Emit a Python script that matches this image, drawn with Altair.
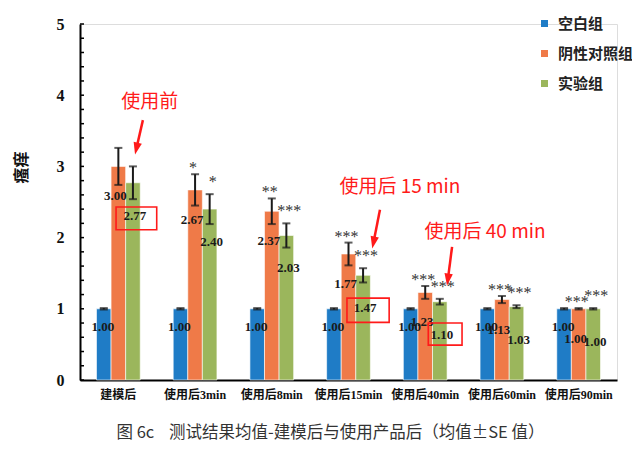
import altair as alt
import pandas as pd

categories = ["建模后", "使用后3min", "使用后8min", "使用后15min", "使用后40min", "使用后60min", "使用后90min"]
groups = ["空白组", "阴性对照组", "实验组"]
colors = ["#1f7cc6", "#ef7a48", "#9bb65c"]

blank_vals = [1.00, 1.00, 1.00, 1.00, 1.00, 1.00, 1.00]
neg_vals = [3.00, 2.67, 2.37, 1.77, 1.23, 1.13, 1.00]
exp_vals = [2.77, 2.40, 2.03, 1.47, 1.10, 1.03, 1.00]

blank_se = [0.01, 0.01, 0.01, 0.01, 0.01, 0.01, 0.01]
neg_se = [0.26, 0.22, 0.18, 0.16, 0.09, 0.05, 0.01]
exp_se = [0.23, 0.21, 0.17, 0.10, 0.04, 0.02, 0.01]

blank_stars = ["", "", "", "", "", "", ""]
neg_stars = ["", "*", "**", "***", "***", "***", "***"]
exp_stars = ["", "*", "***", "***", "***", "***", "***"]

y_ticks = [0.0, 0.2, 0.4, 0.6, 0.8, 1.0, 1.2, 1.4, 1.6, 1.8, 2.0, 2.2, 2.4, 2.6, 2.8,
           3.0, 3.2, 3.4, 3.6, 3.8, 4.0, 4.2, 4.4, 4.6, 4.8, 5.0]

# annotations (x in category units 0..7, y in value units)
note_text = ["使用前", "使用后 15 min", "使用后 40 min"]
note_x = [0.91, 4.17, 5.28]
note_y = [3.90, 2.71, 2.08]
arrow_x1 = [0.82, 3.91, 4.85]
arrow_y1 = [3.65, 2.39, 1.87]
arrow_x2 = [0.735, 3.826, 4.795]
arrow_y2 = [3.25, 1.93, 1.41]
arrow_ang = [13, 12, 8]
box_x1 = [0.47, 3.48, 4.54]
box_x2 = [1.00, 4.03, 4.98]
box_y1 = [2.43, 1.15, 0.80]
box_y2 = [2.11, 0.81, 0.49]

caption = "图 6c\u00a0\u00a0\u00a0 测试结果均值-建模后与使用产品后（均值±SE 值）"

rows = []
for g, vals, ses, sts in zip(groups, [blank_vals, neg_vals, exp_vals],
                             [blank_se, neg_se, exp_se], [blank_stars, neg_stars, exp_stars]):
    for c, v, s, st in zip(categories, vals, ses, sts):
        rows.append(dict(category=c, group=g, value=v, se=s, stars=st, label=f"{v:.2f}"))
df = pd.DataFrame(rows)

yscale = alt.Scale(domain=[0, 5], nice=False, zero=True)
xenc = alt.X("category:N", sort=categories,
             scale=alt.Scale(paddingInner=0.43, paddingOuter=0.215),
             axis=alt.Axis(title=None, labelAngle=0, tickSize=0, domainColor="black", domainWidth=2,
                           labelFont="Liberation Serif, Noto Sans CJK SC", labelFontWeight="bold",
                           labelFontSize=12, labelColor="#111", labelPadding=9))
xoff = alt.XOffset("group:N", sort=groups, scale=alt.Scale(paddingInner=0, paddingOuter=0))

base = alt.Chart(df)

bars = base.mark_bar(stroke="white", strokeWidth=0.6).encode(
    x=xenc,
    xOffset=xoff,
    y=alt.Y("value:Q", scale=yscale,
            axis=alt.Axis(values=[0, 1, 2, 3, 4, 5], format="d", tickSize=0, grid=False,
                          domainColor="black", domainWidth=2, labelFont="Liberation Serif",
                          labelFontWeight="bold", labelFontSize=16, labelColor="#111", labelPadding=16,
                          title="瘙痒", titleFont="Noto Sans CJK SC", titleFontSize=16,
                          titleFontWeight="bold", titleColor="#111", titleAngle=270,
                          titleX=-59, titleY=143, titleAlign="center", titleBaseline="middle")),
    color=alt.Color("group:N", scale=alt.Scale(domain=groups, range=colors),
                    legend=alt.Legend(title=None, orient="none", legendX=457, legendY=-8,
                                      symbolType="square", symbolSize=49, symbolStrokeWidth=0,
                                      labelFont="Noto Sans CJK SC", labelFontSize=15,
                                      labelFontWeight="bold", labelColor="#222",
                                      rowPadding=14, labelOffset=6, padding=0)),
)

err_base = base.transform_calculate(lo="datum.value - datum.se", hi="datum.value + datum.se")

err_rule = err_base.mark_rule(color="#1a1a1a", strokeWidth=2).encode(
    x=alt.X("category:N", sort=categories), xOffset=xoff,
    y=alt.Y("lo:Q", scale=yscale), y2="hi:Q")
cap_hi = err_base.mark_tick(color="#1a1a1a", size=8, thickness=2, orient="horizontal").encode(
    x=alt.X("category:N", sort=categories), xOffset=xoff, y=alt.Y("hi:Q", scale=yscale))
cap_lo = err_base.mark_tick(color="#1a1a1a", size=8, thickness=2, orient="horizontal").encode(
    x=alt.X("category:N", sort=categories), xOffset=xoff, y=alt.Y("lo:Q", scale=yscale))

star_layers = []
for g, dx, dy in zip(groups[1:], [-2, 3], [-1, -7]):
    star_layers.append(
        err_base.transform_filter(alt.datum.group == g).transform_filter("datum.stars != ''").mark_text(
            font="Liberation Serif", fontSize=16, color="#333", baseline="alphabetic",
            dx=dx, dy=dy).encode(
            x=alt.X("category:N", sort=categories), xOffset=xoff,
            y=alt.Y("hi:Q", scale=yscale), text="stars:N"))

label_layers = []
for g, dx, dy in zip(groups, [-1, -3, 2], [18, 30, 33]):
    label_layers.append(
        base.transform_filter(alt.datum.group == g).mark_text(
            font="Liberation Serif", fontWeight="bold", fontSize=13, color="#1a1a1a",
            baseline="middle", dx=dx, dy=dy).encode(
            x=alt.X("category:N", sort=categories), xOffset=xoff,
            y=alt.Y("value:Q", scale=yscale), text="label:N"))

tick_df = pd.DataFrame({"t": y_ticks})
minor = alt.Chart(tick_df).mark_rule(color="black", strokeWidth=1.5).encode(
    y=alt.Y("t:Q", scale=yscale), x=alt.value(0), x2=alt.value(4))

main = alt.layer(bars, err_rule, cap_hi, cap_lo, *star_layers, *label_layers, minor)

ax = alt.Scale(domain=[0, 7], nice=False, zero=False)
red = "#ff1a1a"
notes_df = pd.DataFrame({"text": note_text, "x": note_x, "y": note_y})
arrows_df = pd.DataFrame({"x1": arrow_x1, "y1": arrow_y1, "x2": arrow_x2, "y2": arrow_y2, "ang": arrow_ang})
boxes_df = pd.DataFrame({"x1": box_x1, "x2": box_x2, "y1": box_y1, "y2": box_y2})

notes = alt.Chart(notes_df).mark_text(font="Noto Sans CJK SC", fontSize=19, color=red,
                                      baseline="middle", align="center").encode(
    x=alt.X("x:Q", scale=ax, axis=None), y=alt.Y("y:Q", scale=yscale), text="text:N")
arrow_lines = alt.Chart(arrows_df).mark_rule(color=red, strokeWidth=2.5).encode(
    x=alt.X("x1:Q", scale=ax, axis=None), x2="x2:Q", y=alt.Y("y1:Q", scale=yscale), y2="y2:Q")
arrow_heads = alt.Chart(arrows_df).mark_point(
    shape="M -0.7 -1 L 0.7 -1 L 0 1 Z", filled=True, color=red, size=144, opacity=1).encode(
    x=alt.X("x2:Q", scale=ax, axis=None), y=alt.Y("y2:Q", scale=yscale),
    angle=alt.Angle("ang:Q", scale=None))
boxes = alt.Chart(boxes_df).mark_rect(fillOpacity=0, stroke=red, strokeWidth=1.6).encode(
    x=alt.X("x1:Q", scale=ax, axis=None), x2="x2:Q", y=alt.Y("y1:Q", scale=yscale), y2="y2:Q")

annot = alt.layer(boxes, arrow_lines, arrow_heads, notes)

chart = alt.layer(main, annot).resolve_scale(x="independent").properties(
    width=537, height=356,
    autosize=alt.AutoSizeParams(type="none"),
    padding={"left": 72, "top": 16, "right": 15, "bottom": 65},
    title=alt.TitleParams(caption, orient="bottom", anchor="middle", offset=25, dx=-18,
                          font="Noto Sans CJK SC", fontSize=16.5, fontWeight="normal", color="#333"),
).configure_view(stroke=None).configure(background="white")

chart.save("out.html", embed_options={"renderer": "svg", "actions": False})
